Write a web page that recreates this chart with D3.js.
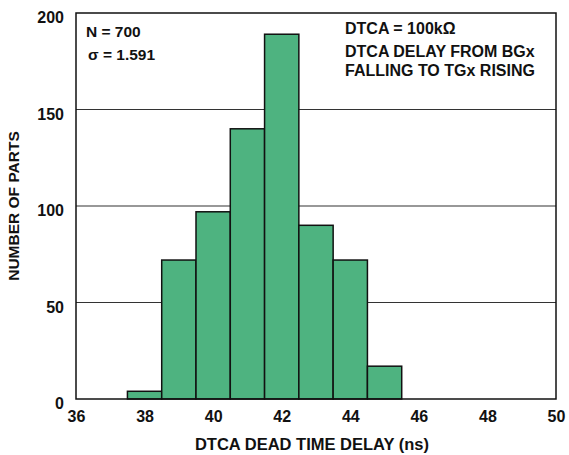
<!DOCTYPE html>
<html><head><meta charset="utf-8">
<script src="https://cdn.jsdelivr.net/npm/d3@7"></script>
<style>body{margin:0;background:#fff}text{font-family:"Liberation Sans",Arial,sans-serif;font-weight:bold;fill:#111}</style>
</head><body><svg id="c" width="569" height="455"></svg>
<script>
const binCenters = [37,38,39,40,41,42,43,44,45,46,47,48,49];
const counts = [0,4,72,97,140,189,90,72,17,0,0,0,0];
const xTicks = [36,38,40,42,44,46,48,50];
const yTicks = [0,50,100,150,200];
const gridTicks = [50,100,150];
const notesLeft = ["N = 700","σ = 1.591"];
const notesRight = ["DTCA = 100kΩ","DTCA DELAY FROM BGx","FALLING TO TGx RISING"];
const xTitle = "DTCA DEAD TIME DELAY (ns)";
const yTitle = "NUMBER OF PARTS";

const m = {l:76,r:556,t:13,b:399};
const svg = d3.select("#c");
const x = d3.scaleLinear().domain([36,50]).range([m.l,m.r]);
const y = d3.scaleLinear().domain([0,200]).range([m.b,m.t]);

svg.append("g").selectAll("line").data(gridTicks).join("line")
  .attr("x1",m.l).attr("x2",m.r).attr("y1",d=>y(d)).attr("y2",d=>y(d))
  .attr("stroke","#333").attr("stroke-width",1.2);

svg.append("g").selectAll("rect").data(binCenters).join("rect")
  .attr("x",(d)=>x(d-0.5)).attr("width",(d)=>x(d+0.5)-x(d-0.5))
  .attr("y",(d,i)=>y(counts[i])).attr("height",(d,i)=>y(0)-y(counts[i]))
  .attr("fill","#4eb380").attr("stroke","#111").attr("stroke-width",1.5);

svg.append("rect").attr("x",m.l).attr("y",m.t).attr("width",m.r-m.l).attr("height",m.b-m.t)
  .attr("fill","none").attr("stroke","#111").attr("stroke-width",1.5);

const xa = svg.append("g").attr("transform",`translate(0,${m.b})`)
  .call(d3.axisBottom(x).tickValues(xTicks).tickSize(0).tickPadding(12));
xa.select(".domain").remove();
xa.selectAll("text").style("font-size","16px").style("font-family","Liberation Sans").style("font-weight","bold").attr("fill","#111");

const ya = svg.append("g").attr("transform",`translate(${m.l},0)`)
  .call(d3.axisLeft(y).tickValues(yTicks).tickSize(0).tickPadding(12));
ya.select(".domain").remove();
ya.selectAll("text").style("font-size","16px").style("font-family","Liberation Sans").style("font-weight","bold").attr("fill","#111").attr("dy","0.6em");

svg.append("text").attr("x",312).attr("y",450).attr("text-anchor","middle").style("font-size","16.5px").text(xTitle);
svg.append("text").attr("transform",`translate(19,${(m.t+m.b)/2}) rotate(-90)`).attr("text-anchor","middle").style("font-size","15.5px").text(yTitle);

svg.append("g").selectAll("text").data(notesLeft).join("text")
  .attr("x",(d,i)=>i?88:86).attr("y",(d,i)=>37+i*23).style("font-size","15.5px").text(d=>d);
svg.append("g").selectAll("text").data(notesRight).join("text")
  .attr("x",345).attr("y",(d,i)=>[34,57,76][i]).style("font-size","16px").text(d=>d);
</script></body></html>
